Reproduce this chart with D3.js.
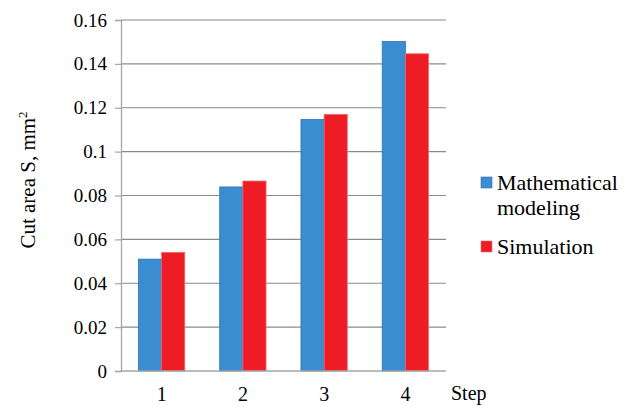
<!DOCTYPE html>
<html><head><meta charset="utf-8">
<script src="https://cdn.jsdelivr.net/npm/d3@7"></script>
</head><body style="margin:0;background:#fff">
<svg id="c" width="643" height="406" style="display:block"></svg>
<script>
const categories = ["1","2","3","4"];
const seriesNames = ["Mathematical modeling","Simulation"];
const mathModeling = [0.051, 0.0839, 0.1147, 0.1502];
const simulation = [0.0541, 0.0866, 0.1170, 0.1446];
const yTicks = [0,0.02,0.04,0.06,0.08,0.1,0.12,0.14,0.16];
const colors = ["#3A8DD0","#EE1D25"];
const strokes = ["#2F6FB5","#F06A6F"];
const FONT = "'Liberation Serif', Tinos, 'Times New Roman', serif";

const svg = d3.select("#c").style("font-family",FONT);
const L=121, R=446, T=20, B=371;
const x = d3.scaleBand().domain(categories).range([L,R]).paddingInner(0.43).paddingOuter(0.215);
const xs = d3.scaleBand().domain([0,1]).range([0,x.bandwidth()]);
const y = d3.scaleLinear().domain([0,0.16]).range([B,T]);

// gridlines
svg.append("g").selectAll("line").data(yTicks.filter(d=>d>0)).join("line")
  .attr("x1",L).attr("x2",R).attr("y1",d=>y(d)).attr("y2",d=>y(d))
  .attr("stroke","#8a8a8a").attr("stroke-width",1.2);

// y axis
const ya = svg.append("g").attr("transform",`translate(${L},0)`)
  .call(d3.axisLeft(y).tickValues(yTicks).tickSize(6).tickPadding(8).tickFormat(d=>d===0?"0":String(+d.toFixed(2))));
ya.attr("font-family",null).attr("font-size",null);
ya.select(".domain").attr("stroke","#a6a6a6").attr("stroke-width",1.3);
ya.selectAll(".tick line").attr("stroke","#a6a6a6").attr("stroke-width",1.2);
ya.selectAll(".tick text").style("font-size","19px").style("font-family",FONT).attr("fill","#000");

// bars
const data = [mathModeling, simulation];
data.forEach((vals,si)=>{
  svg.append("g").selectAll("rect").data(vals).join("rect")
    .attr("x",(d,i)=>x(categories[i])+xs(si))
    .attr("width",xs.bandwidth())
    .attr("y",d=>y(d)).attr("height",d=>B-y(d))
    .attr("fill",colors[si]).attr("stroke",strokes[si]).attr("stroke-width",0.8);
});

// x axis baseline
svg.append("line").attr("x1",L).attr("x2",R).attr("y1",B).attr("y2",B).attr("stroke","#a6a6a6").attr("stroke-width",1.3);
// x labels
svg.append("g").selectAll("text").data(categories).join("text")
  .attr("x",d=>x(d)+x.bandwidth()/2).attr("y",401).attr("text-anchor","middle")
  .style("font-family",FONT).style("font-size","20px").text(d=>d);
svg.append("text").attr("x",451).attr("y",400).style("font-family",FONT).style("font-size","20px").text("Step");

// y title
const yt = svg.append("text").attr("transform","translate(35,180) rotate(-90)").attr("text-anchor","middle")
  .style("font-family",FONT).style("font-size","21px");
yt.append("tspan").text("Cut area S, mm");
yt.append("tspan").style("font-size","13px").attr("dy",-8).text("2");

// legend
const lg = svg.append("g");
lg.append("rect").attr("x",481).attr("y",177).attr("width",11).attr("height",11).attr("fill",colors[0]).attr("stroke",strokes[0]).attr("stroke-width",0.6);
const t1 = lg.append("text").attr("x",497).attr("y",190).style("font-family",FONT).style("font-size","22px");
t1.append("tspan").text("Mathematical");
t1.append("tspan").attr("x",497).attr("dy",25).text("modeling");
lg.append("rect").attr("x",481).attr("y",241).attr("width",11).attr("height",11).attr("fill",colors[1]).attr("stroke",strokes[1]).attr("stroke-width",0.6);
lg.append("text").attr("x",497).attr("y",254).style("font-family",FONT).style("font-size","22px").text("Simulation");
</script>
</body></html>
